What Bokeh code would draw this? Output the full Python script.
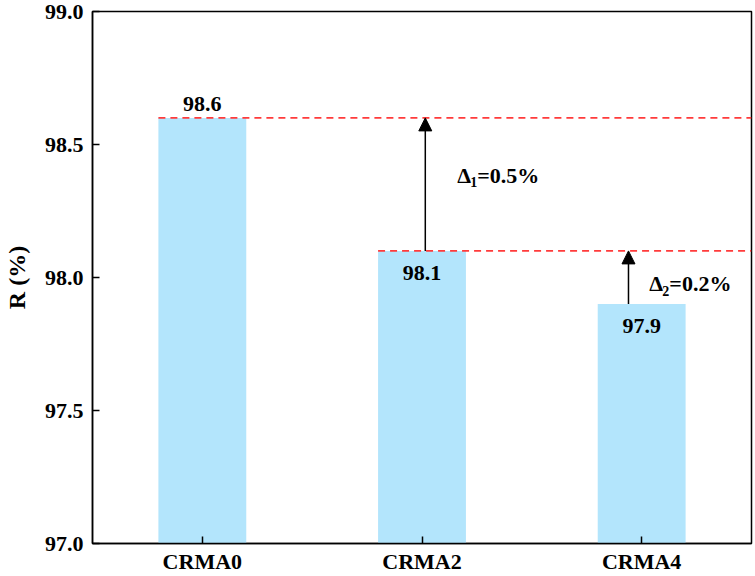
from bokeh.plotting import figure
from bokeh.models import Range1d, FixedTicker, PrintfTickFormatter, Arrow, NormalHead
from bokeh.core.properties import value
from bokeh.embed import file_html
from bokeh.resources import INLINE

categories = ["CRMA0", "CRMA2", "CRMA4"]
values = [98.6, 98.1, 97.9]
y_ticks = [97.0, 97.5, 98.0, 98.5, 99.0]
delta_subs = ["1", "2"]
delta_vals = ["=0.5%", "=0.2%"]

FONT = "Liberation Serif"
BAR_W = 0.4
xs = list(range(len(categories)))

p = figure(width=755, height=576, output_backend="svg", toolbar_location=None,
           x_range=Range1d(-0.5, len(categories) - 0.5),
           y_range=Range1d(y_ticks[0], y_ticks[-1]),
           min_border_left=89, min_border_right=4, min_border_top=11, min_border_bottom=31)

p.xgrid.visible = False
p.ygrid.visible = False
p.outline_line_color = "black"
p.outline_line_width = 1.5

# bars
p.vbar(x=xs, top=values, bottom=y_ticks[0], width=BAR_W, fill_color="#B3E5FC", line_color=None)

# dashed reference lines from the bar's left edge to the right frame
p.segment(x0=[xs[0] - BAR_W / 2, xs[1] - BAR_W / 2], y0=[values[0], values[1]],
          x1=[p.x_range.end, p.x_range.end], y1=[values[0], values[1]],
          line_color="#FF3B3B", line_width=1.8, line_dash="7 5")

# arrows
head1 = NormalHead(size=13, fill_color="black", line_color="black", line_width=1)
p.add_layout(Arrow(end=head1, x_start=xs[1] + 0.015, y_start=values[1],
                   x_end=xs[1] + 0.015, y_end=values[0], line_width=1.5, line_color="black"))
head2 = NormalHead(size=13, fill_color="black", line_color="black", line_width=1)
p.add_layout(Arrow(end=head2, x_start=xs[2] - 0.06, y_start=values[2],
                   x_end=xs[2] - 0.06, y_end=values[1], line_width=1.5, line_color="black"))

# value labels
lbl = [f"{v:.1f}" for v in values]
p.text(x=[xs[0]], y=[values[0]], text=[lbl[0]], text_font=value(FONT), text_font_style="bold",
       text_font_size="22px", text_align="center", text_baseline="bottom", y_offset=-7, text_color="black")
p.text(x=xs[1:], y=values[1:], text=lbl[1:], text_font=value(FONT), text_font_style="bold",
       text_font_size="22px", text_align="center", text_baseline="middle", y_offset=22, text_color="black")

# delta labels (Δ, subscript, value)
dx = [xs[1] + 0.16, xs[2] + 0.035]
dy = [(values[0] + values[1]) / 2 + 0.035, (values[1] + values[2]) / 2 - 0.024]
p.text(x=dx, y=dy, text=["\u0394", "\u0394"], text_font=value(FONT), text_font_style="bold",
       text_font_size="22px", text_align="left", text_baseline="middle", text_color="black")
p.text(x=dx, y=dy, text=delta_subs, text_font=value(FONT), text_font_style="bold",
       text_font_size="14px", text_align="left", text_baseline="middle", x_offset=13, y_offset=7,
       text_color="black")
p.text(x=dx, y=dy, text=delta_vals, text_font=value(FONT), text_font_style="bold",
       text_font_size="22px", text_align="left", text_baseline="middle", x_offset=20, text_color="black")

# axes
for ax in (p.xaxis[0], p.yaxis[0]):
    ax.axis_line_color = "black"
    ax.axis_line_width = 1.5
    ax.major_tick_line_color = "black"
    ax.major_tick_line_width = 1.5
    ax.major_tick_in = 7
    ax.major_tick_out = 0
    ax.minor_tick_line_color = None
    ax.major_label_text_font = FONT
    ax.major_label_text_font_style = "bold"
    ax.major_label_text_color = "black"

p.xaxis.ticker = FixedTicker(ticks=xs)
p.xaxis.major_label_overrides = {i: c for i, c in zip(xs, categories)}
p.xaxis.major_label_text_font_size = "22px"
p.xaxis.major_label_standoff = 5

p.yaxis.ticker = FixedTicker(ticks=y_ticks)
p.yaxis.formatter = PrintfTickFormatter(format="%.1f")
p.yaxis.major_label_text_font_size = "22px"
p.yaxis.major_label_standoff = 9
p.yaxis.axis_label = "R (%)"
p.yaxis.axis_label_text_font = FONT
p.yaxis.axis_label_text_font_style = "bold"
p.yaxis.axis_label_text_font_size = "24px"
p.yaxis.axis_label_text_color = "black"
p.yaxis.axis_label_standoff = 12

open("out.html", "w").write(file_html(p, INLINE))
